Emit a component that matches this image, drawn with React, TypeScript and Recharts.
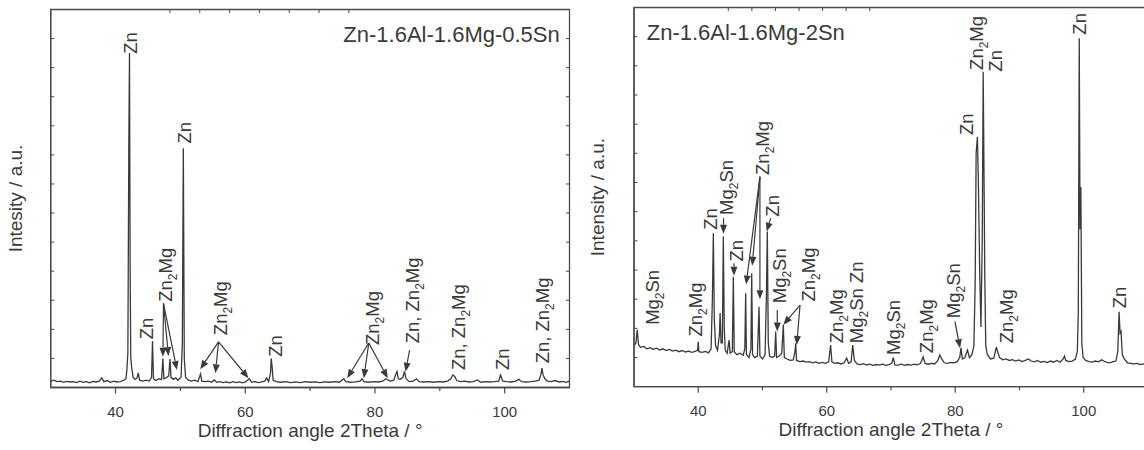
import React from "react";
import { Line, LineChart, ReferenceArea, ReferenceDot, ReferenceLine, XAxis, YAxis } from "recharts";

const FONT = '"Liberation Sans", Arial, Helvetica, sans-serif';
const INK = "#3a3a3a";
const AXIS = "#4a4a4a";

// 2Theta / intensity (arbitrary units)
const scanA: [number, number][] = [
  [30.0, 0.22], [30.5, 0.25], [31.0, 0.2], [31.5, 0.22], [32.0, 0.18], [32.5, 0.21], [33.0, 0.19],
  [33.5, 0.2], [34.0, 0.17], [34.5, 0.22], [35.0, 0.18], [35.5, 0.2], [36.0, 0.16], [36.5, 0.21],
  [37.0, 0.19], [37.5, 0.22], [37.9, 0.33], [38.2, 0.2], [38.7, 0.24], [39.2, 0.18], [39.7, 0.22],
  [40.2, 0.19], [40.7, 0.2], [41.2, 0.24], [41.6, 0.3], [41.75, 0.6], [41.9, 1.2], [42.05, 8.5],
  [42.15, 11.5], [42.25, 4.0], [42.35, 1.0], [42.5, 0.67], [42.7, 0.35], [43.0, 0.28], [43.3, 0.32],
  [43.5, 0.5], [43.7, 0.25], [44.2, 0.22], [44.7, 0.25], [45.2, 0.22], [45.55, 0.35], [45.7, 1.6],
  [45.85, 0.3], [46.2, 0.24], [46.7, 0.3], [47.1, 0.28], [47.3, 1.0], [47.45, 0.3], [47.9, 0.35],
  [48.2, 0.4], [48.4, 0.98], [48.55, 0.35], [48.9, 0.28], [49.3, 0.33], [49.6, 0.25], [50.1, 0.35],
  [50.3, 1.5], [50.45, 8.23], [50.6, 1.0], [50.8, 0.35], [51.2, 0.26], [51.7, 0.22], [52.2, 0.25],
  [52.7, 0.2], [53.1, 0.46], [53.3, 0.22], [53.8, 0.2], [54.3, 0.22], [54.8, 0.18], [55.2, 0.26],
  [55.6, 0.18], [56.1, 0.2], [56.6, 0.17], [57.1, 0.19], [57.6, 0.16], [58.1, 0.2], [58.6, 0.17],
  [59.1, 0.19], [59.6, 0.16], [60.1, 0.2], [60.6, 0.3], [61.0, 0.18], [61.5, 0.2], [62.0, 0.17],
  [62.5, 0.19], [63.0, 0.22], [63.3, 0.33], [63.6, 0.2], [63.9, 0.5], [64.0, 1.0], [64.15, 0.7],
  [64.3, 0.25], [64.8, 0.2], [65.5, 0.18], [66.2, 0.2], [67.0, 0.17], [67.8, 0.19], [68.5, 0.17],
  [69.2, 0.2], [70.0, 0.18], [70.8, 0.19], [71.5, 0.17], [72.3, 0.19], [73.0, 0.18], [73.8, 0.2],
  [74.5, 0.18], [75.2, 0.3], [75.5, 0.2], [76.2, 0.18], [77.0, 0.19], [77.7, 0.22], [78.0, 0.3],
  [78.3, 0.2], [79.0, 0.18], [79.8, 0.2], [80.5, 0.19], [81.2, 0.22], [81.7, 0.3], [82.0, 0.26],
  [82.4, 0.22], [82.9, 0.25], [83.2, 0.45], [83.4, 0.55], [83.6, 0.3], [83.9, 0.28], [84.3, 0.35],
  [84.55, 0.55], [84.8, 0.3], [85.3, 0.2], [85.9, 0.22], [86.4, 0.3], [86.8, 0.2], [87.5, 0.19],
  [88.2, 0.2], [89.0, 0.18], [89.8, 0.2], [90.5, 0.19], [91.2, 0.22], [91.7, 0.3], [92.0, 0.43],
  [92.3, 0.38], [92.6, 0.24], [93.2, 0.2], [93.9, 0.22], [94.5, 0.19], [95.2, 0.2], [95.8, 0.26],
  [96.3, 0.18], [97.0, 0.2], [97.7, 0.19], [98.4, 0.2], [99.1, 0.22], [99.35, 0.43], [99.5, 0.35],
  [99.7, 0.22], [100.3, 0.2], [101.0, 0.19], [101.7, 0.22], [102.2, 0.28], [102.6, 0.2], [103.3, 0.19],
  [104.0, 0.2], [104.7, 0.22], [105.3, 0.25], [105.6, 0.45], [105.75, 0.67], [105.9, 0.45], [106.2, 0.3],
  [106.6, 0.22], [107.2, 0.2], [107.8, 0.24], [108.4, 0.19], [109.0, 0.21], [109.5, 0.18], [110.0, 0.22],
];

// right pattern
const scanB: [number, number][] = [
  [30.0, 1.4], [30.3, 1.5], [30.5, 1.95], [30.7, 1.45], [31.0, 1.35], [31.5, 1.38], [32.0, 1.3],
  [32.5, 1.34], [33.0, 1.28], [33.5, 1.32], [34.0, 1.26], [34.5, 1.3], [35.0, 1.24], [35.5, 1.28],
  [36.0, 1.22], [36.5, 1.25], [37.0, 1.2], [37.5, 1.24], [38.0, 1.19], [38.5, 1.22], [39.0, 1.18],
  [39.5, 1.21], [39.9, 1.25], [40.0, 1.54], [40.1, 1.2], [40.6, 1.18], [41.1, 1.21], [41.6, 1.16],
  [42.0, 1.3], [42.2, 3.0], [42.35, 5.26], [42.5, 2.3], [42.7, 1.4], [43.0, 1.25], [43.3, 1.8],
  [43.4, 2.53], [43.55, 1.5], [43.75, 1.5], [43.9, 5.15], [44.05, 2.0], [44.2, 1.25], [44.5, 1.15],
  [44.8, 1.6], [44.95, 1.15], [45.3, 1.2], [45.46, 3.77], [45.6, 1.2], [46.0, 1.1], [46.5, 1.15],
  [47.0, 1.08], [47.25, 1.3], [47.38, 3.2], [47.5, 1.1], [47.9, 1.0], [48.2, 1.3], [48.32, 3.89],
  [48.45, 1.1], [48.8, 1.0], [49.2, 1.05], [49.46, 2.74], [49.6, 1.05], [50.0, 0.95], [50.4, 1.1],
  [50.6, 3.0], [50.75, 5.32], [50.9, 1.5], [51.1, 1.05], [51.5, 1.0], [51.9, 1.05], [52.05, 1.89],
  [52.2, 1.0], [52.6, 1.05], [53.0, 1.15], [53.24, 2.12], [53.4, 1.0], [53.8, 0.95], [54.3, 0.9],
  [54.8, 0.92], [55.05, 1.2], [55.17, 1.49], [55.3, 0.9], [55.8, 0.86], [56.3, 0.88], [56.8, 0.84],
  [57.3, 0.86], [57.8, 0.82], [58.3, 0.85], [58.8, 0.8], [59.3, 0.83], [59.8, 0.8], [60.3, 0.85],
  [60.6, 1.43], [60.8, 0.85], [61.2, 0.8], [61.7, 0.82], [62.2, 0.78], [62.7, 0.82], [63.1, 0.98],
  [63.4, 0.8], [63.8, 0.85], [64.04, 1.43], [64.3, 0.9], [64.7, 0.78], [65.2, 0.76], [65.7, 0.79],
  [66.2, 0.74], [66.7, 0.77], [67.2, 0.73], [67.7, 0.76], [68.2, 0.74], [68.7, 0.77], [69.2, 0.73],
  [69.7, 0.76], [70.1, 0.8], [70.36, 1.0], [70.6, 0.75], [71.1, 0.74], [71.6, 0.77], [72.1, 0.73],
  [72.6, 0.76], [73.1, 0.74], [73.6, 0.77], [74.1, 0.75], [74.6, 0.8], [75.0, 1.02], [75.3, 0.8],
  [75.8, 0.77], [76.3, 0.8], [76.8, 0.78], [77.3, 0.9], [77.6, 1.09], [77.9, 0.95], [78.3, 0.82],
  [78.8, 0.8], [79.3, 0.83], [79.8, 0.82], [80.3, 0.86], [80.7, 1.0], [80.9, 1.33], [81.1, 0.95],
  [81.5, 1.0], [81.9, 1.26], [82.2, 1.0], [82.6, 1.1], [82.9, 1.4], [83.1, 3.5], [83.25, 8.0],
  [83.45, 8.57], [83.6, 7.0], [83.8, 4.0], [84.0, 2.05], [84.2, 5.0], [84.35, 10.8], [84.5, 6.6],
  [84.6, 3.7], [84.75, 1.4], [85.0, 1.1], [85.5, 0.95], [86.0, 0.98], [86.4, 1.36], [86.6, 1.2],
  [86.9, 1.0], [87.4, 0.92], [87.9, 0.95], [88.4, 0.9], [88.9, 0.93], [89.4, 0.88], [89.9, 0.92],
  [90.4, 0.86], [90.9, 0.9], [91.4, 0.95], [91.8, 0.88], [92.3, 0.85], [92.8, 0.9], [93.3, 0.84],
  [93.8, 0.87], [94.3, 0.83], [94.8, 0.88], [95.3, 0.84], [95.8, 0.9], [96.3, 0.84], [96.8, 0.95],
  [97.0, 1.05], [97.2, 0.9], [97.7, 0.86], [98.2, 0.88], [98.7, 0.95], [99.0, 1.2], [99.15, 2.5],
  [99.3, 11.95], [99.42, 5.4], [99.55, 6.85], [99.7, 1.5], [99.9, 1.0], [100.3, 0.9], [100.8, 0.86],
  [101.3, 0.84], [101.8, 0.88], [102.3, 0.85], [102.8, 0.92], [103.1, 0.88], [103.5, 0.84], [104.0, 0.82],
  [104.5, 0.85], [105.0, 0.88], [105.3, 1.2], [105.5, 2.57], [105.65, 1.84], [105.8, 1.9], [106.0, 1.1],
  [106.3, 0.95], [106.8, 0.82], [107.3, 0.8], [107.8, 0.78], [108.3, 0.8], [108.8, 0.76], [109.3, 0.78],
  [109.8, 0.75], [110.0, 0.76],
];

const xTicks = [40, 50, 60, 70, 80, 90, 100];
const xMajor = [40, 60, 80, 100];
const yTicks = [1, 2, 3, 4, 5, 6, 7, 8, 9, 10, 11, 12];

// phase labels: "_2" marks a subscript; x/y is the bottom end of the rotated text
type Tag = { text: string; x: number; y: number };
type Pointer = { from: [number, number]; to: [number, number] };

const tagsA: Tag[] = [
  { text: "Zn", x: 42.25, y: 11.48 },
  { text: "Zn", x: 50.63, y: 8.39 },
  { text: "Zn", x: 44.83, y: 1.66 },
  { text: "Zn_2Mg", x: 47.65, y: 2.95 },
  { text: "Zn_2Mg", x: 56.15, y: 1.8 },
  { text: "Zn", x: 64.64, y: 1.06 },
  { text: "Zn_2Mg", x: 79.57, y: 1.46 },
  { text: "Zn, Zn_2Mg", x: 85.75, y: 1.52 },
  { text: "Zn, Zn_2Mg", x: 92.95, y: 0.6 },
  { text: "Zn", x: 99.65, y: 0.6 },
  { text: "Zn, Zn_2Mg", x: 105.83, y: 0.83 },
];

const pointersA: Pointer[] = [
  { from: [47.39, 2.89], to: [47.3, 1.06] },
  { from: [47.39, 2.89], to: [48.16, 1.08] },
  { from: [47.39, 2.89], to: [49.46, 0.6] },
  { from: [55.88, 1.57], to: [53.06, 0.63] },
  { from: [55.88, 1.57], to: [55.4, 0.49] },
  { from: [55.88, 1.57], to: [60.5, 0.32] },
  { from: [79.05, 1.53], to: [75.71, 0.32] },
  { from: [79.05, 1.53], to: [78.28, 0.32] },
  { from: [79.05, 1.53], to: [81.98, 0.32] },
  { from: [85.34, 1.29], to: [84.72, 0.54] },
];

const tagsB: Tag[] = [
  { text: "Mg_2Sn", x: 32.9, y: 2.12 },
  { text: "Zn_2Mg", x: 39.57, y: 1.72 },
  { text: "Zn", x: 41.98, y: 5.38 },
  { text: "Mg_2Sn", x: 44.32, y: 5.89 },
  { text: "Zn", x: 45.88, y: 4.29 },
  { text: "Zn_2Mg", x: 50.0, y: 7.26 },
  { text: "Zn", x: 51.63, y: 5.83 },
  { text: "Mg_2Sn", x: 52.72, y: 2.86 },
  { text: "Zn_2Mg", x: 57.16, y: 2.92 },
  { text: "Zn_2Mg", x: 61.44, y: 1.49 },
  { text: "Mg_2Sn Zn", x: 64.63, y: 1.49 },
  { text: "Mg_2Sn", x: 70.36, y: 1.09 },
  { text: "Zn_2Mg", x: 75.45, y: 1.15 },
  { text: "Mg_2Sn", x: 79.7, y: 2.35 },
  { text: "Zn", x: 81.78, y: 8.63 },
  { text: "Zn_2Mg", x: 83.23, y: 10.86 },
  { text: "Zn", x: 86.19, y: 10.8 },
  { text: "Zn_2Mg", x: 88.05, y: 1.49 },
  { text: "Zn", x: 99.41, y: 12.07 },
  { text: "Zn", x: 105.64, y: 2.69 },
];

const pointersB: Pointer[] = [
  { from: [43.93, 5.78], to: [43.93, 5.24] },
  { from: [45.56, 4.23], to: [45.56, 3.8] },
  { from: [49.6, 7.2], to: [47.45, 3.5] },
  { from: [49.6, 7.2], to: [48.4, 4.15] },
  { from: [49.6, 7.2], to: [49.6, 3.0] },
  { from: [51.27, 5.78], to: [50.65, 5.32] },
  { from: [52.3, 2.63], to: [52.3, 1.89] },
  { from: [55.84, 2.8], to: [53.24, 2.12] },
  { from: [55.84, 2.8], to: [55.32, 1.43] },
  { from: [79.96, 2.23], to: [80.74, 1.32] },
];

function Rich({ text }: { text: string }) {
  const parts = text.split(/_(\d)/);
  return (
    <>
      {parts.map((p, i) =>
        i % 2 ? (
          <tspan key={i} fontSize={12} dy={5}>{p}</tspan>
        ) : (
          <tspan key={i} dy={i ? -5 : 0}>{p}</tspan>
        )
      )}
    </>
  );
}

const tagShape = (text: string) => (p: any) => (
  <text
    transform={`translate(${p.cx + 6.5},${p.cy}) rotate(-90)`}
    fontSize={18.5}
    fontFamily={FONT}
    fill={INK}
  >
    <Rich text={text} />
  </text>
);

const titleShape = (text: string, anchor: "start" | "end") => (p: any) => (
  <text x={p.cx} y={p.cy} textAnchor={anchor} fontSize={22} fontFamily={FONT} fill={INK}>
    {text}
  </text>
);

const arrowShape = (p: any) => {
  const { x1, y1, x2, y2 } = p;
  const len = Math.hypot(x2 - x1, y2 - y1) || 1;
  const ux = (x2 - x1) / len;
  const uy = (y2 - y1) / len;
  const bx = x2 - ux * 9;
  const by = y2 - uy * 9;
  return (
    <g>
      <line x1={x1} y1={y1} x2={bx} y2={by} stroke={INK} strokeWidth={1.2} />
      <polygon
        points={`${x2},${y2} ${bx - uy * 3.5},${by + ux * 3.5} ${bx + uy * 3.5},${by - ux * 3.5}`}
        fill={INK}
      />
    </g>
  );
};

const BottomTick = (p: any) => {
  const major = xMajor.includes(p.payload.value);
  return (
    <g>
      <line x1={p.x} x2={p.x} y1={p.y} y2={p.y + (major ? 6 : 3.5)} stroke={AXIS} strokeWidth={1.2} />
      {major && (
        <text x={p.x} y={p.y + 29.5} textAnchor="middle" fontSize={15} fontFamily={FONT} fill={INK}>
          {p.payload.value}
        </text>
      )}
    </g>
  );
};
const TopTick = (p: any) => <line x1={p.x} x2={p.x} y1={p.y} y2={p.y + 3.5} stroke={AXIS} strokeWidth={1} />;
const LeftTick = (p: any) => <line x1={p.x} x2={p.x + 3.5} y1={p.y} y2={p.y} stroke={AXIS} strokeWidth={1} />;
const RightTick = (p: any) => <line x1={p.x} x2={p.x - 3.5} y1={p.y} y2={p.y} stroke={AXIS} strokeWidth={1} />;

interface PanelProps {
  scan: [number, number][];
  tags: Tag[];
  pointers: Pointer[];
  title: string;
  titleAt: [number, number];
  titleAnchor: "start" | "end";
  yTitle: string;
  width: number;
  top: number;
  right: number;
  yWidth: number;
  xHeight: number;
  yTitleX: number;
}

function Panel(props: PanelProps) {
  const data = props.scan.map(([a, v]) => ({ a, v }));
  const axisLine = { stroke: AXIS, strokeWidth: 1.3 };
  return (
    <LineChart
      width={props.width}
      height={450}
      data={data}
      margin={{ top: props.top - 1, right: props.right - 1, left: 0, bottom: 0 }}
    >
      <XAxis
        dataKey="a"
        type="number"
        domain={[30, 110]}
        allowDataOverflow
        ticks={xTicks}
        interval={0}
        height={props.xHeight}
        tickSize={0}
        tickMargin={0}
        tickLine={false}
        axisLine={axisLine}
        tick={(p: any) => <BottomTick {...p} />}
        label={(lp: any) => {
          const vb = lp.viewBox;
          return (
            <text x={vb.x + vb.width / 2} y={vb.y + 49.5} textAnchor="middle" fontSize={19} fontFamily={FONT} fill={INK}>
              Diffraction angle 2Theta / °
            </text>
          );
        }}
      />
      <XAxis
        xAxisId="top"
        orientation="top"
        type="number"
        domain={[30, 110]}
        allowDataOverflow
        ticks={xTicks}
        interval={0}
        height={1}
        tickSize={0}
        tickMargin={0}
        tickLine={false}
        axisLine={false}
        tick={(p: any) => <TopTick {...p} />}
      />
      <YAxis
        type="number"
        domain={[0, 13]}
        allowDataOverflow
        ticks={yTicks}
        interval={0}
        width={props.yWidth}
        tickSize={0}
        tickMargin={0}
        tickLine={false}
        axisLine={axisLine}
        tick={(p: any) => <LeftTick {...p} />}
        label={(lp: any) => {
          const vb = lp.viewBox;
          const cx = vb.x + props.yTitleX;
          const cy = vb.y + vb.height / 2;
          return (
            <text transform={`translate(${cx},${cy}) rotate(-90)`} textAnchor="middle" fontSize={19} fontFamily={FONT} fill={INK}>
              {props.yTitle}
            </text>
          );
        }}
      />
      <YAxis
        yAxisId="right"
        orientation="right"
        type="number"
        domain={[0, 13]}
        allowDataOverflow
        ticks={yTicks}
        interval={0}
        width={1}
        tickSize={0}
        tickMargin={0}
        tickLine={false}
        axisLine={false}
        tick={(p: any) => <RightTick {...p} />}
      />
      <ReferenceArea
        x1={30}
        x2={110}
        y1={0}
        y2={13}
        ifOverflow="visible"
        fill="none"
        fillOpacity={0}
        stroke={AXIS}
        strokeWidth={1.3}
      />
      <Line
        type="linear"
        dataKey="v"
        stroke={INK}
        strokeWidth={1.3}
        dot={false}
        isAnimationActive={false}
      />
      {props.pointers.map((pt, i) => (
        <ReferenceLine
          key={`p${i}`}
          segment={[{ x: pt.from[0], y: pt.from[1] }, { x: pt.to[0], y: pt.to[1] }]}
          ifOverflow="visible"
          shape={arrowShape}
        />
      ))}
      {props.tags.map((t, i) => (
        <ReferenceDot key={`t${i}`} x={t.x} y={t.y} r={0} ifOverflow="visible" shape={tagShape(t.text)} />
      ))}
      <ReferenceDot
        x={props.titleAt[0]}
        y={props.titleAt[1]}
        r={0}
        ifOverflow="visible"
        shape={titleShape(props.title, props.titleAnchor)}
      />
    </LineChart>
  );
}

export default function App() {
  return (
    <div
      style={{
        position: "absolute",
        left: 0,
        top: 0,
        width: 1144,
        height: 450,
        overflow: "hidden",
        background: "#fff",
      }}
    >
      <div style={{ position: "absolute", left: 0, top: 0 }}>
        <Panel
          scan={scanA}
          tags={tagsA}
          pointers={pointersA}
          title="Zn-1.6Al-1.6Mg-0.5Sn"
          titleAt={[108.5, 11.88]}
          titleAnchor="end"
          yTitle="Intesity / a.u."
          width={580}
          top={9.5}
          right={10.5}
          yWidth={50.7}
          xHeight={62.5}
          yTitleX={22}
        />
      </div>
      <div style={{ position: "absolute", left: 580, top: 0 }}>
        <Panel
          scan={scanB}
          tags={tagsB}
          pointers={pointersB}
          title="Zn-1.6Al-1.6Mg-2Sn"
          titleAt={[31.98, 11.89]}
          titleAnchor="start"
          yTitle="Intensity / a.u."
          width={578}
          top={7.5}
          right={10}
          yWidth={54}
          xHeight={63.3}
          yTitleX={24}
        />
      </div>
    </div>
  );
}
